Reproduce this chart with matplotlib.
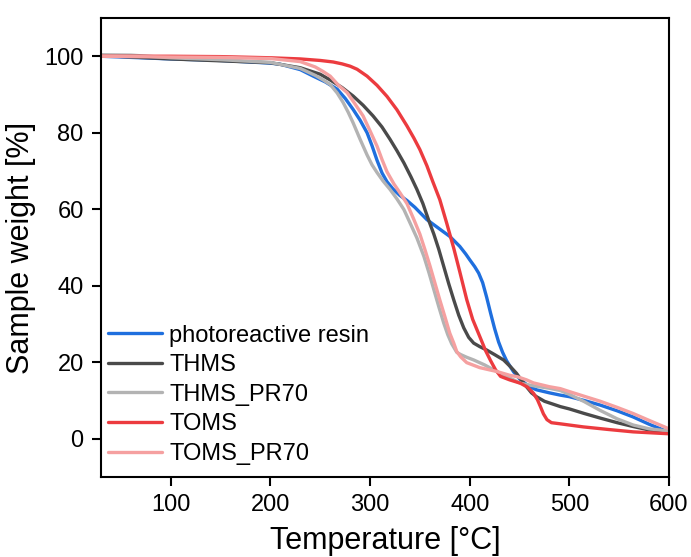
import matplotlib
matplotlib.use("Agg")
import matplotlib.pyplot as plt

plt.rcParams['font.family'] = ['Liberation Sans', 'DejaVu Sans']

# photoreactive resin
t_resin = [30, 100, 150, 200, 210, 230, 243, 255, 267, 275, 283, 290, 297, 302, 307, 312, 317, 323, 330, 337,
           345, 357, 370, 380, 390, 396, 400, 405, 409, 413, 417, 421, 425, 429, 433, 437, 444, 451, 460, 467,
           480, 491, 500, 515, 531, 548, 564, 580, 600]
w_resin = [100, 99.3, 98.9, 98.2, 97.9, 96.5, 94.8, 93.3, 91.4, 89, 86.1, 83.3, 80, 76.6, 72.8, 69.5, 67.2,
           65.3, 63.6, 62.3, 60.5, 57.3, 54.8, 52.9, 50.3, 48.3, 46.8, 45, 43.3, 40.8, 37, 32.8, 28.8, 25.3,
           22.6, 20.4, 17.5, 15.4, 13.6, 12.8, 12, 11.4, 11, 10, 8.8, 7.3, 5.7, 3.8, 1.7]

# THMS
t_thms = [30, 100, 150, 200, 230, 250, 260, 272, 283, 293, 303, 312, 320, 327, 334, 341, 347, 353, 359, 364,
          369, 374, 379, 384, 389, 394, 399, 404, 410, 417, 425, 434, 441, 447, 452, 457, 462, 467, 475, 491,
          500, 515, 531, 548, 564, 580, 600]
w_thms = [100.2, 99.3, 98.8, 98.3, 97, 95.3, 93.8, 91.8, 89.6, 87.2, 84.4, 81.5, 78.3, 75.3, 72.1, 68.5, 65.2,
          61.5, 57, 53.5, 49.5, 45, 40.5, 36.3, 32.3, 29, 26.5, 25, 24.1, 23.2, 22, 20.6, 18.8, 17.1, 15.3,
          13.6, 12, 11, 9.8, 8.4, 7.8, 6.6, 5.4, 4.2, 3.2, 2.3, 1.5]

# THMS_PR70
t_thms70 = [30, 60, 100, 150, 200, 230, 245, 253, 260, 267, 273, 278, 283, 290, 297, 302, 307, 313, 320, 327,
            334, 340, 347, 354, 359, 364, 369, 374, 378, 382, 387, 391, 397, 404, 415, 427, 440, 451, 465, 480,
            491, 500, 515, 531, 548, 564, 580, 600]
w_thms70 = [100.4, 100.3, 99.6, 99.1, 98.4, 96.8, 95, 93.8, 92.6, 90.4, 87.9, 85.4, 82.6, 78.3, 74.2, 71.6,
            69.6, 67.4, 65.2, 62.7, 59.9, 56.5, 52.5, 47.7, 43.5, 39, 34.5, 30.2, 27.2, 24.8, 22.6, 22, 21.3,
            20.6, 19.3, 17.6, 15.9, 14.5, 13.8, 13.2, 12.6, 11.6, 9.7, 7.4, 5.2, 3.6, 2.6, 2]

# TOMS
t_toms = [30, 100, 150, 200, 230, 250, 263, 272, 280, 287, 297, 307, 317, 327, 337, 344, 350, 357, 363, 370,
          377, 384, 390, 397, 403, 410, 416, 421, 426, 431, 440, 451, 458, 464, 468, 471, 474, 477.5, 482, 491,
          514, 540, 564, 600]
w_toms = [100, 100, 99.9, 99.6, 99.3, 98.9, 98.5, 98.0, 97.4, 96.6, 94.8, 92.4, 89.5, 86, 81.8, 78.6, 75.6,
          71.4, 67.2, 62.5, 56.3, 49.8, 43.7, 36.4, 31.2, 26.8, 23, 20.4, 18, 16.3, 15.4, 14.5, 13.5, 11.9, 10.2,
          8.4, 6.5, 5, 4.2, 3.9, 3.1, 2.4, 1.8, 1.3]

# TOMS_PR70
t_toms70 = [30, 100, 150, 200, 230, 245, 253, 260, 268, 277, 285, 293, 300, 307, 312, 317, 324, 330, 337, 344,
            350, 355, 360, 365, 370, 375, 380, 384, 387, 391, 397, 404, 410, 420, 427, 440, 448, 457, 464, 480,
            491, 498, 515, 531, 548, 564, 580, 600]
w_toms70 = [100, 99.8, 99.7, 99.4, 98.6, 97.2, 96, 94.8, 92.5, 90.5, 87.5, 84.4, 80.5, 76.5, 73, 69.8, 66.6,
            64.3, 61.5, 57.3, 53.5, 49.5, 45.3, 40.8, 36.3, 32, 27.6, 25, 22.8, 21.4, 19.9, 19.2, 18.6, 18,
            17.6, 16.6, 16.2, 15.4, 14.6, 13.6, 13.1, 12.5, 11.1, 9.8, 8.2, 6.6, 4.8, 2.6]

series = [
    (t_resin, w_resin, 'photoreactive resin', '#1f6fde'),
    (t_thms, w_thms, 'THMS', '#4a4a4a'),
    (t_thms70, w_thms70, 'THMS_PR70', '#b3b3b3'),
    (t_toms, w_toms, 'TOMS', '#ec3b3f'),
    (t_toms70, w_toms70, 'TOMS_PR70', '#f5a0a0'),
]

fig = plt.figure(figsize=(6.91, 5.57), dpi=100)
ax = fig.add_axes([101/691, 1 - 477/557, (669-101)/691, (477-18)/557])

for t, w, lab, c in series:
    ax.plot(t, w, color=c, lw=2.4, label=lab, solid_capstyle='round', solid_joinstyle='round')

ax.set_xlim(30, 600)
ax.set_ylim(-10, 110)
ax.set_xticks([100, 200, 300, 400, 500, 600])
ax.set_yticks([0, 20, 40, 60, 80, 100])
ax.tick_params(direction='out', length=6.5, width=1.5, pad=6, labelsize=17, top=False, right=False)
for s in ax.spines.values():
    s.set_linewidth(1.5)

ax.set_xlabel('Temperature [°C]', fontsize=22, labelpad=7)
ax.set_ylabel('Sample weight [%]', fontsize=22, labelpad=6)

ax.legend(loc='lower left', bbox_to_anchor=(0, 0.011), frameon=False, fontsize=17, handlelength=2.3,
          borderaxespad=0, borderpad=0.3, labelspacing=0.32, handletextpad=0.3)

fig.savefig('out.png', dpi=100)
